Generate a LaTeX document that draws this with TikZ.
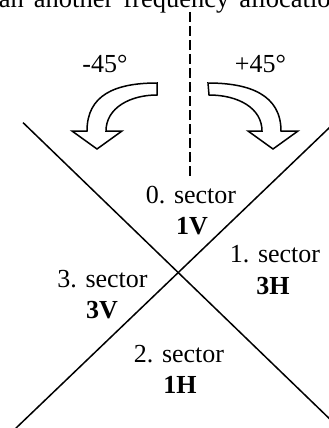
\documentclass[tikz,border=0pt]{standalone}
\usepackage{fontspec}
\setmainfont{Liberation Serif}
\begin{document}
\begin{tikzpicture}[x=1pt,y=-1pt,
  lbl/.style={anchor=base,inner sep=0pt,font=\fontsize{26}{31}\selectfont},
  blbl/.style={lbl,font=\fontsize{26}{31}\selectfont\bfseries},
  xline/.style={line width=1.5pt,black},
  dashline/.style={line width=1.6pt,dash pattern=on 10pt off 4pt},
  bigarrow/.style={line width=1.5pt,fill=white,line join=miter}]
\clip (0,0) rectangle (329,428);
\fill[white] (0,0) rectangle (329,428);
% top text (cut off as in the reference)
\node[anchor=base west,inner sep=0pt,font=\fontsize{26.5}{31}\selectfont] (top) at (-13,7.5)
  {\spaceskip=10pt ean another frequency allocation};
% dashed axis
\coordinate (dtop) at (190,12);
\coordinate (dbot) at (190,178);
\draw[dashline] (dtop) -- (dbot);
% X lines
\coordinate (a1) at (23,122.6);
\coordinate (a2) at (336,425);
\coordinate (b1) at (336,121.3);
\coordinate (b2) at (14,430);
\draw[xline] (a1) -- (a2);
\draw[xline] (b1) -- (b2);
% curved arrows
\draw[bigarrow] (157,83) -- (157,95) .. controls (130,95) and (106,108) .. (106,131)
  -- (122,131) -- (97,149) -- (72,131) -- (87,131)
  .. controls (87,95) and (115,83) .. (157,83) -- cycle;
\draw[bigarrow] (208,83) .. controls (250,83) and (281,95) .. (281,131)
  -- (298,131) -- (273,149) -- (248,131) -- (262,131)
  .. controls (262,108) and (238,95) .. (209,95) -- cycle;
% labels
\node[lbl] (m45) at (105,72) {-45°};
\node[lbl] (p45) at (260.5,72) {+45°};
\node[lbl] (s0) at (191,203) {0. sector};
\node[blbl] (s0b) at (192,234) {1V};
\node[lbl] (s1) at (275,262) {1. sector};
\node[blbl] (s1b) at (273,294) {3H};
\node[lbl] (s3) at (102.5,287) {3. sector};
\node[blbl] (s3b) at (102,318) {3V};
\node[lbl] (s2) at (179,362) {2. sector};
\node[blbl] (s2b) at (180,393) {1H};
\end{tikzpicture}
\end{document}
